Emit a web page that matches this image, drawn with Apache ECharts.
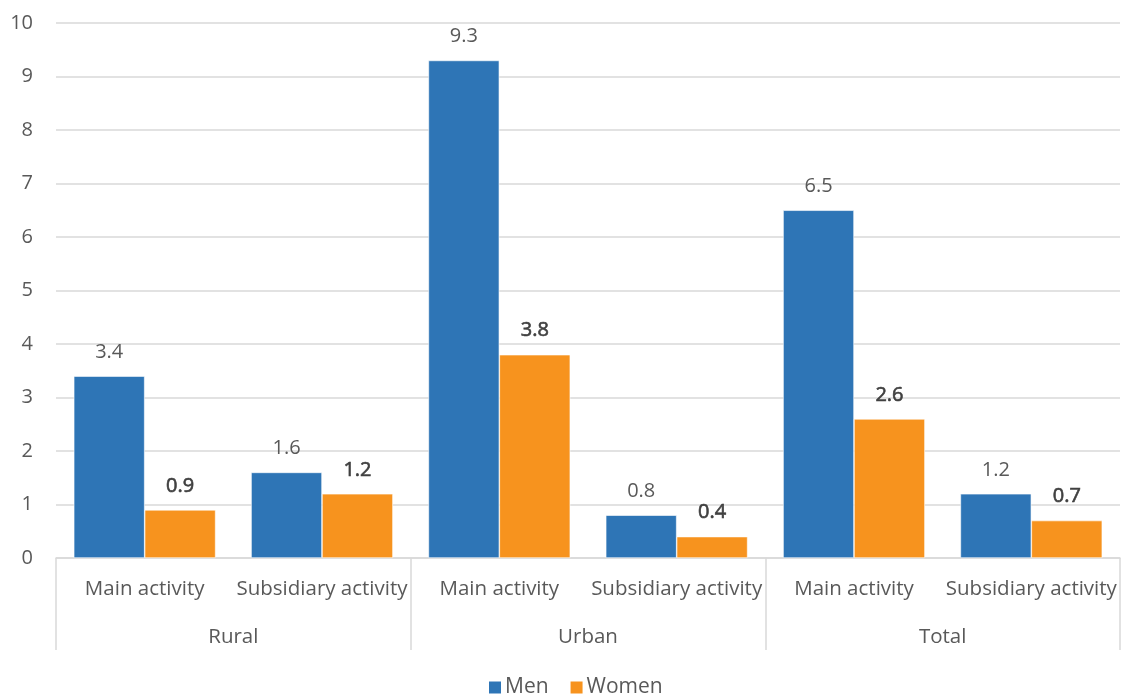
<!DOCTYPE html>
<html>
<head>
<meta charset="utf-8">
<script src="https://cdn.jsdelivr.net/npm/echarts@6/dist/echarts.min.js"></script>
<style>
  html, body { margin: 0; padding: 0; background: #fff; }
  #chart { width: 1121px; height: 696px; }
</style>
</head>
<body>
<div id="chart"></div>
<script>
// Sub-categories (inner axis row) and area groups (outer axis row)
const activities = ['Main activity', 'Subsidiary activity', 'Main activity', 'Subsidiary activity', 'Main activity', 'Subsidiary activity'];
const areas = ['Rural', 'Urban', 'Total'];

// Values per sub-category, in order Rural / Urban / Total
const men = [3.4, 1.6, 9.3, 0.8, 6.5, 1.2];
const women = [0.9, 1.2, 3.8, 0.4, 2.6, 0.7];

const yTicks = [0, 1, 2, 3, 4, 5, 6, 7, 8, 9, 10];

const FONT = '"Open Sans", "Noto Sans", sans-serif';
const GRID_COLOR = '#d9d9d9';
const TEXT_COLOR = '#595959';

const chart = echarts.init(document.getElementById('chart'), null, { renderer: 'canvas' });

chart.setOption({
  animation: false,
  textStyle: { fontFamily: FONT },
  grid: { left: 56, right: 1, top: 23, bottom: 138, containLabel: false },
  legend: {
    bottom: -7,
    left: 482,
    icon: 'rect',
    itemWidth: 14,
    itemHeight: 14,
    itemGap: 20,
    textStyle: { fontSize: 21, color: TEXT_COLOR, fontFamily: FONT, padding: [0, 0, 0, -2] },
    data: ['Men', 'Women']
  },
  xAxis: [
    {
      type: 'category',
      data: activities,
      position: 'bottom',
      axisLine: { show: true, lineStyle: { color: GRID_COLOR, width: 1.5 } },
      axisTick: { show: false },
      axisLabel: { fontSize: 20.5, color: TEXT_COLOR, margin: 21, fontFamily: FONT, interval: 0 }
    },
    {
      type: 'category',
      data: areas,
      position: 'bottom',
      offset: 92,
      axisLine: { show: false },
      axisTick: { show: true, inside: true, length: 92, lineStyle: { color: GRID_COLOR, width: 1.5 } },
      axisLabel: { inside: true, fontSize: 20.5, color: TEXT_COLOR, margin: 2, fontFamily: FONT }
    }
  ],
  yAxis: {
    type: 'value',
    min: yTicks[0],
    max: yTicks[yTicks.length - 1],
    interval: 1,
    axisLine: { show: false },
    axisTick: { show: false },
    splitLine: { lineStyle: { color: GRID_COLOR, width: 1.5 } },
    axisLabel: { fontSize: 20, color: TEXT_COLOR, margin: 23, fontFamily: FONT }
  },
  series: [
    {
      name: 'Men',
      type: 'bar',
      xAxisIndex: 0,
      data: men,
      barGap: '0%',
      barCategoryGap: '20%',
      itemStyle: { color: '#2E75B6', borderColor: '#ffffff', borderWidth: 0.6 },
      label: {
        show: true,
        position: 'top',
        distance: 14,
        fontSize: 20,
        color: TEXT_COLOR,
        fontFamily: FONT,
        formatter: p => p.value.toFixed(1)
      }
    },
    {
      name: 'Women',
      type: 'bar',
      xAxisIndex: 0,
      data: women,
      barGap: '0%',
      barCategoryGap: '20%',
      itemStyle: { color: '#F7931E', borderColor: '#ffffff', borderWidth: 0.6 },
      label: {
        show: true,
        position: 'top',
        distance: 14,
        fontSize: 20,
        color: '#404040',
        textBorderColor: '#404040',
        textBorderWidth: 0.6,
        fontFamily: FONT,
        formatter: p => p.value.toFixed(1)
      }
    }
  ]
});
</script>
</body>
</html>
